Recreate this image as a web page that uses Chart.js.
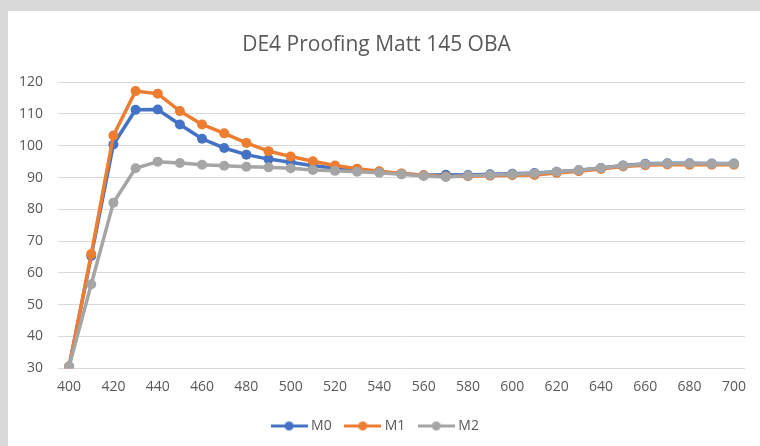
<!DOCTYPE html>
<html lang="en">
  <head>
    <meta charset="UTF-8" />
    <title>DE4 Proofing Matt 145 OBA</title>
    <script src="https://cdn.jsdelivr.net/npm/chart.js@4.4.1/dist/chart.umd.min.js"></script>
    <style>
      html, body { margin: 0; padding: 0; background: #d9d9d9; }
      .panel {
        position: absolute; left: 8px; top: 11px;
        width: 752px; height: 435px; background: #ffffff;
      }
    </style>
  </head>
  <body>
    <div class="panel">
      <canvas id="myChart" width="752" height="435"></canvas>
    </div>

    <script>
      // wavelengths (nm)
      var wavelengths = ["400", "410", "420", "430", "440", "450", "460", "470", "480", "490",
        "500", "510", "520", "530", "540", "550", "560", "570", "580", "590",
        "600", "610", "620", "630", "640", "650", "660", "670", "680", "690", "700"];

      var m0 = [30.5, 65.3, 100.4, 111.3, 111.4, 106.7, 102.2, 99.3, 97.2, 95.8,
        94.8, 93.7, 93.0, 92.3, 91.8, 91.2, 90.7, 90.9, 90.8, 91.0,
        91.2, 91.4, 91.8, 92.3, 93.0, 93.8, 94.3, 94.5, 94.5, 94.4, 94.4];

      var m1 = [30.5, 65.9, 103.2, 117.2, 116.4, 110.9, 106.7, 103.9, 100.9, 98.3,
        96.6, 95.1, 93.8, 92.8, 92.0, 91.3, 90.7, 90.3, 90.4, 90.6,
        90.7, 90.8, 91.4, 92.0, 92.7, 93.5, 93.9, 94.1, 94.0, 94.0, 94.0];

      var m2 = [30.5, 56.4, 82.1, 92.9, 95.0, 94.6, 94.0, 93.7, 93.4, 93.2,
        92.9, 92.4, 92.1, 91.8, 91.5, 91.0, 90.5, 90.2, 90.6, 90.8,
        91.0, 91.3, 91.8, 92.3, 93.0, 93.7, 94.2, 94.4, 94.4, 94.3, 94.3];

      var seriesNames = ["M0", "M1", "M2"];
      var seriesColors = ["#4472c4", "#ed7d31", "#a5a5a5"];

      // little line + dot picture for the legend, like Excel
      function legendIcon(color) {
        var c = document.createElement("canvas");
        c.width = 37;
        c.height = 11;
        var g = c.getContext("2d");
        g.strokeStyle = color;
        g.lineWidth = 3;
        g.beginPath();
        g.moveTo(0, 5.5);
        g.lineTo(37, 5.5);
        g.stroke();
        g.fillStyle = color;
        g.beginPath();
        g.arc(18.5, 5.5, 4.5, 0, Math.PI * 2);
        g.fill();
        return c;
      }

      var allData = [m0, m1, m2];
      var datasets = [];
      for (var i = 0; i < allData.length; i++) {
        datasets.push({
          label: seriesNames[i],
          data: allData[i],
          borderColor: seriesColors[i],
          backgroundColor: seriesColors[i],
          borderWidth: 3.5,
          pointRadius: 5,
          pointBorderWidth: 0,
          pointBackgroundColor: seriesColors[i],
          tension: 0,
          order: allData.length - i,
        });
      }

      var tickColor = "#595959";

      var ctx = document.getElementById("myChart").getContext("2d");
      var myChart = new Chart(ctx, {
        type: "line",
        data: { labels: wavelengths, datasets: datasets },
        options: {
          responsive: false,
          animation: false,
          layout: { padding: { left: 0, right: 15, top: 0, bottom: 3 } },
          plugins: {
            title: {
              display: true,
              text: "DE4 Proofing Matt 145 OBA",
              color: tickColor,
              font: { family: "Open Sans", size: 21, weight: "normal" },
              padding: { top: 21, bottom: 25 },
            },
            legend: {
              position: "bottom",
              labels: {
                usePointStyle: true,
                pointStyleWidth: 30,
                padding: 16,
                color: tickColor,
                font: { family: "Open Sans", size: 14 },
                generateLabels: function (chart) {
                  return chart.data.datasets.map(function (ds, idx) {
                    return {
                      text: ds.label,
                      fontColor: tickColor,
                      pointStyle: legendIcon(ds.borderColor),
                      datasetIndex: idx,
                      lineWidth: 0,
                      strokeStyle: ds.borderColor,
                      fillStyle: ds.borderColor,
                    };
                  });
                },
              },
            },
            tooltip: { enabled: false },
          },
          scales: {
            x: {
              offset: true,
              grid: { display: false },
              border: { display: false },
              ticks: {
                autoSkip: false,
                maxRotation: 0,
                padding: 2,
                color: tickColor,
                font: { family: "Open Sans", size: 14 },
                callback: function (value, index) {
                  return index % 2 === 0 ? this.getLabelForValue(value) : "";
                },
              },
              afterFit: function (scale) {
                // extra room under the tick labels, before the legend
                scale.height = scale.height + 6;
              },
            },
            y: {
              min: 30,
              max: 120,
              ticks: {
                stepSize: 10,
                padding: 15,
                color: tickColor,
                font: { family: "Open Sans", size: 14 },
              },
              grid: { color: "#d9d9d9", lineWidth: 1, drawTicks: false },
              border: { display: false },
              afterFit: function (scale) {
                scale.width = 50;
              },
            },
          },
        },
      });
    </script>
  </body>
</html>
